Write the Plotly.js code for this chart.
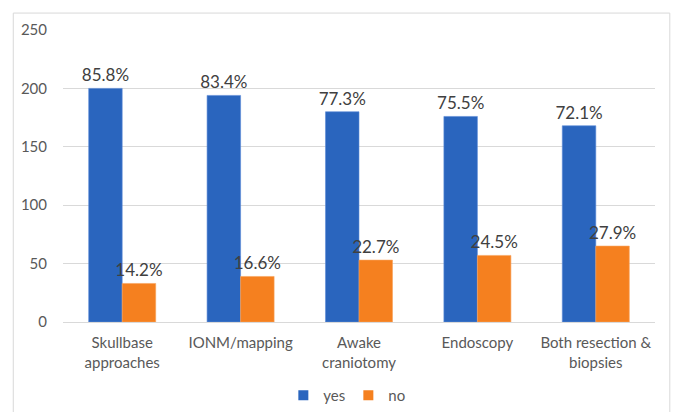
<!DOCTYPE html>
<html>
<head>
<meta charset="utf-8">
<script src="https://cdn.plot.ly/plotly-3.0.1.min.js"></script>
<style>html,body{margin:0;padding:0;background:#fff;}#chart{width:673px;height:412px;}</style>
</head>
<body>
<div id="chart"></div>
<script>
var categories = ["Skullbase<br>approaches", "IONM/mapping", "Awake<br>craniotomy", "Endoscopy", "Both resection &<br>biopsies"];
var yesValues = [200, 194, 180, 176, 168];
var noValues = [33, 39, 53, 57, 65];
var yesLabels = ["85.8%", "83.4%", "77.3%", "75.5%", "72.1%"];
var noLabels = ["14.2%", "16.6%", "22.7%", "24.5%", "27.9%"];
var yTicks = [0, 50, 100, 150, 200, 250];

var fontFam = "Lato, 'Open Sans', sans-serif";
var blue = "#2a65be", orange = "#f5801f";
var traces = [
  {type: "bar", name: "yes", x: categories, y: yesValues, text: yesLabels,
   textposition: "outside", cliponaxis: false, constraintext: "none", showlegend: false,
   textfont: {family: fontFam, size: 17, color: "#404040"},
   marker: {color: blue, line: {color: "#5a8ad6", width: 0.6}}, hoverinfo: "none"},
  {type: "bar", name: "no", x: categories, y: noValues, text: noLabels,
   textposition: "outside", cliponaxis: false, constraintext: "none", showlegend: false,
   textfont: {family: fontFam, size: 17, color: "#404040"},
   marker: {color: orange, line: {color: "#f8a35c", width: 0.6}}, hoverinfo: "none"},
  {type: "scatter", mode: "markers", name: "yes", x: [null], y: [null],
   marker: {symbol: "square", size: 10, color: blue}, hoverinfo: "none"},
  {type: "scatter", mode: "markers", name: "no", x: [null], y: [null],
   marker: {symbol: "square", size: 10, color: orange}, hoverinfo: "none"}
];

var layout = {
  width: 673, height: 412,
  margin: {l: 63, r: 18, t: 30, b: 90},
  paper_bgcolor: "#fff", plot_bgcolor: "#fff",
  font: {family: fontFam, color: "#595959", size: 15},
  barmode: "group", bargap: 0.434, bargroupgap: 0,
  showlegend: true,
  legend: {orientation: "h", x: 0.482, xanchor: "center", xref: "paper",
           yref: "container", y: 0.0, yanchor: "bottom",
           font: {family: fontFam, size: 15, color: "#595959"}, itemwidth: 30,
           traceorder: "normal", entrywidth: 20, tracegroupgap: 0},
  xaxis: {tickfont: {family: fontFam, size: 15, color: "#595959"}, showline: false, ticks: "",
          showgrid: false, ticklabelstandoff: 10, automargin: false},
  yaxis: {range: [0, 250], tickvals: yTicks, showgrid: true, gridcolor: "#d9d9d9", gridwidth: 1,
          zeroline: true, zerolinecolor: "#d9d9d9", zerolinewidth: 1, automargin: false,
          tickfont: {family: fontFam, size: 15, color: "#595959"}, ticklabelstandoff: 15, fixedrange: true},
  shapes: [{type: "rect", xref: "paper", yref: "paper", x0: -0.084, x1: 1.025, y0: -0.35, y1: 1.058,
            line: {color: "#d9d9d9", width: 1}}]
};
Plotly.newPlot("chart", traces, layout, {displayModeBar: false, staticPlot: true});
</script>
</body>
</html>
